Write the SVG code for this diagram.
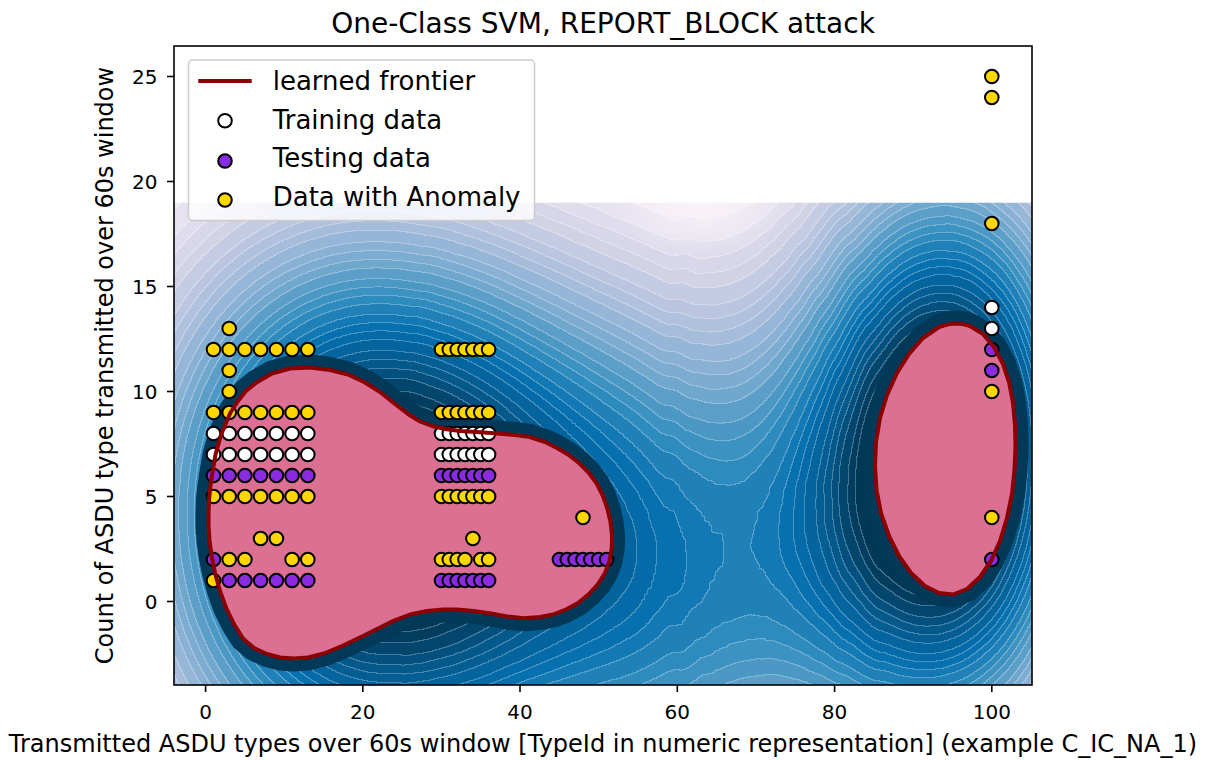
<svg xmlns="http://www.w3.org/2000/svg" width="1223" height="760" viewBox="0 0 1223 760">
<style>
text{font-family:"DejaVu Sans","Liberation Sans",sans-serif;fill:#000}
.tk{font-size:20px}
.lab{font-size:24px}
.leg{font-size:26px}
.ttl{font-size:28px}
.w{fill:#ffffff;stroke:#000;stroke-width:2}
.p{fill:#8a2be2;stroke:#000;stroke-width:2}
.a{fill:#ffd700;stroke:#000;stroke-width:2}
.tick{stroke:#000;stroke-width:1.6}
.front{fill:none;stroke:#8b0000;stroke-width:4;stroke-linejoin:round}
.halo{fill:none;stroke:#023858;stroke-width:26;stroke-linejoin:round}
.pink{fill:#db7093}
</style>
<defs>
<path id="lb" d="M208.5,515 L209,500 L210.3,487 L212,475.5 L215.5,454.5 L221.5,433.5 L230.5,412.5 L238,401 L246,391 L256.5,382.5 L272,373.5 L290,368.5 L310,367.5 L330,370 L348,374.5 L365,382.5 L380,392 L395,404 L408,414 L420,421.5 L432,426 L445,429 L460,431 L480,432.3 L497,433.5 L515,435 L530,437 L545,442 L557,448 L568,454.5 L579,463 L589,473 L597,484 L603,496 L607.5,509 L610.5,522 L612,535 L611.8,548 L609.5,561 L605,573 L598,584 L589,594 L578,603 L566,609.5 L553,614.5 L540,617 L524,618.3 L507,616.5 L491,613.5 L474,611 L457,609.5 L443,609.5 L427,611 L410,614.5 L394,620.5 L378,628.5 L361,637 L342,646 L324,653.5 L308,657.5 L294,658.5 L280,657.5 L267,654 L254,648 L243,638.5 L234,624 L226,607.5 L220,591 L215,573 L211.5,555 L209.5,540 L208.6,527 Z"/>
<path id="rb" d="M957,323.5 L964,324.3 L970,326 L983,334 L994,347 L1003,364 L1009,382 L1013,403 L1015,425 L1015.5,447 L1014.5,470 L1012,494 L1007,518 L1000,541 L991,561 L980,577 L967,589 L953,594.5 L939,593 L925,586 L911,573 L899,556 L889,536 L881,513 L876.5,490 L875,466 L876,442 L880,418 L887,395 L897,373 L909,354 L923,338 L939,327 L948,324.3 Z"/>
<linearGradient id="lgr" gradientUnits="userSpaceOnUse" x1="208" y1="0" x2="612" y2="0">
<stop offset="0" stop-color="#cc0000"/><stop offset="1" stop-color="#ff0000"/>
</linearGradient>
<radialGradient id="spot" gradientUnits="userSpaceOnUse" cx="700" cy="200" r="80" gradientTransform="translate(700 200) scale(1.15 0.7) translate(-700 -200)">
<stop offset="0" stop-color="#fff7fb" stop-opacity="0.75"/><stop offset="0.5" stop-color="#fff7fb" stop-opacity="0.4"/><stop offset="1" stop-color="#fff7fb" stop-opacity="0"/>
</radialGradient>
<clipPath id="fc"><rect x="174" y="202.7" width="858" height="482.3"/></clipPath>
<filter id="fld" filterUnits="userSpaceOnUse" x="-700" y="-700" width="2600" height="2200" color-interpolation-filters="sRGB">
<feGaussianBlur in="SourceGraphic" stdDeviation="130 190" result="b1"/>
<feGaussianBlur in="SourceGraphic" stdDeviation="95 190" result="b2"/>
<feColorMatrix in="b1" type="matrix" values="1.8 0 0 0 0 1.8 0 0 0 0 1.8 0 0 0 0 0 0 0 0 1" result="m1"/>
<feColorMatrix in="b2" type="matrix" values="0 2.65 0.75 0 0 0 2.65 0.75 0 0 0 2.65 0.75 0 0 0 0 0 0 1" result="m2"/>
<feComposite in="m1" in2="m2" operator="arithmetic" k1="0" k2="1" k3="1" k4="-0.03" result="g0"/>
<feGaussianBlur in="g0" stdDeviation="6" result="g"/>
<feComponentTransfer in="g" result="q">
<feFuncR type="discrete" tableValues="0.0083 0.025 0.0417 0.0583 0.075 0.0917 0.1083 0.125 0.1417 0.1583 0.175 0.1917 0.2083 0.225 0.2417 0.2583 0.275 0.2917 0.3083 0.325 0.3417 0.3583 0.375 0.3917 0.4083 0.425 0.4417 0.4583 0.475 0.4917 0.75 0.75 0.75 0.75 0.75 0.75 0.75 0.75 0.75 0.75 0.75 0.75 0.75 0.75 0.75 0.75 0.75 0.75 0.75 0.75 0.75 0.75 0.75 0.75 0.75 0.75 0.75 0.75 0.75 0.75"/>
<feFuncG type="discrete" tableValues="0.0083 0.025 0.0417 0.0583 0.075 0.0917 0.1083 0.125 0.1417 0.1583 0.175 0.1917 0.2083 0.225 0.2417 0.2583 0.275 0.2917 0.3083 0.325 0.3417 0.3583 0.375 0.3917 0.4083 0.425 0.4417 0.4583 0.475 0.4917 0.75 0.75 0.75 0.75 0.75 0.75 0.75 0.75 0.75 0.75 0.75 0.75 0.75 0.75 0.75 0.75 0.75 0.75 0.75 0.75 0.75 0.75 0.75 0.75 0.75 0.75 0.75 0.75 0.75 0.75"/>
<feFuncB type="discrete" tableValues="0.0083 0.025 0.0417 0.0583 0.075 0.0917 0.1083 0.125 0.1417 0.1583 0.175 0.1917 0.2083 0.225 0.2417 0.2583 0.275 0.2917 0.3083 0.325 0.3417 0.3583 0.375 0.3917 0.4083 0.425 0.4417 0.4583 0.475 0.4917 0.75 0.75 0.75 0.75 0.75 0.75 0.75 0.75 0.75 0.75 0.75 0.75 0.75 0.75 0.75 0.75 0.75 0.75 0.75 0.75 0.75 0.75 0.75 0.75 0.75 0.75 0.75 0.75 0.75 0.75"/>
</feComponentTransfer>
<feComponentTransfer in="q" result="col">
<feFuncR type="table" tableValues="1 0.925 0.816 0.651 0.455 0.212 0.02 0.016 0.008 0.008 0.008 0.008 0.008 0.008 0.008 0.008 0.008"/>
<feFuncG type="table" tableValues="0.969 0.906 0.82 0.741 0.663 0.565 0.439 0.353 0.22 0.22 0.22 0.22 0.22 0.22 0.22 0.22 0.22"/>
<feFuncB type="table" tableValues="0.984 0.949 0.902 0.859 0.812 0.753 0.69 0.553 0.345 0.345 0.345 0.345 0.345 0.345 0.345 0.345 0.345"/>
</feComponentTransfer>
<feColorMatrix in="q" type="matrix" values="0 0 0 0 0 0 0 0 0 0 0 0 0 0 0 1 0 0 0 0" result="qa"/>
<feMorphology in="qa" operator="dilate" radius="1" result="qd"/>
<feComposite in="qd" in2="qa" operator="arithmetic" k1="0" k2="1" k3="-1" k4="0" result="ed"/>
<feColorMatrix in="ed" type="matrix" values="0 0 0 0 1 0 0 0 0 1 0 0 0 0 1 0 0 0 80 0" result="e1"/>
<feColorMatrix in="e1" type="matrix" values="1 0 0 0 0 0 1 0 0 0 0 0 1 0 0 0 0 0 0.25 0" result="ln"/>
<feComposite in="ln" in2="col" operator="over"/>
</filter>
</defs>
<rect width="1223" height="760" fill="#ffffff"/>
<g id="decision-field" clip-path="url(#fc)">
<g filter="url(#fld)">
<rect x="-700" y="-700" width="2600" height="2200" fill="#000"/>
<rect x="612" y="470" width="208" height="220" fill="#0000ff"/>
<use href="#lb" fill="url(#lgr)"/>
<use href="#rb" fill="#00ff00"/>
</g>
<rect x="560" y="200" width="280" height="80" fill="url(#spot)"/>
<use href="#lb" class="halo"/>
<use href="#rb" class="halo"/>
</g>
<g id="frontier-region">
<use href="#lb" class="pink"/>
<use href="#rb" class="pink"/>
</g>
<g id="training">
<circle class="w" cx="213.5" cy="433.5" r="6.8"/><circle class="w" cx="229.2" cy="433.5" r="6.8"/><circle class="w" cx="244.9" cy="433.5" r="6.8"/><circle class="w" cx="260.6" cy="433.5" r="6.8"/><circle class="w" cx="276.4" cy="433.5" r="6.8"/><circle class="w" cx="292.1" cy="433.5" r="6.8"/><circle class="w" cx="307.8" cy="433.5" r="6.8"/>
<circle class="w" cx="441.5" cy="433.5" r="6.8"/><circle class="w" cx="449.3" cy="433.5" r="6.8"/><circle class="w" cx="457.2" cy="433.5" r="6.8"/><circle class="w" cx="465" cy="433.5" r="6.8"/><circle class="w" cx="472.9" cy="433.5" r="6.8"/><circle class="w" cx="480.8" cy="433.5" r="6.8"/><circle class="w" cx="488.6" cy="433.5" r="6.8"/>
<circle class="w" cx="213.5" cy="454.5" r="6.8"/><circle class="w" cx="229.2" cy="454.5" r="6.8"/><circle class="w" cx="244.9" cy="454.5" r="6.8"/><circle class="w" cx="260.6" cy="454.5" r="6.8"/><circle class="w" cx="276.4" cy="454.5" r="6.8"/><circle class="w" cx="292.1" cy="454.5" r="6.8"/><circle class="w" cx="307.8" cy="454.5" r="6.8"/>
<circle class="w" cx="441.5" cy="454.5" r="6.8"/><circle class="w" cx="449.3" cy="454.5" r="6.8"/><circle class="w" cx="457.2" cy="454.5" r="6.8"/><circle class="w" cx="465" cy="454.5" r="6.8"/><circle class="w" cx="472.9" cy="454.5" r="6.8"/><circle class="w" cx="480.8" cy="454.5" r="6.8"/><circle class="w" cx="488.6" cy="454.5" r="6.8"/>
<circle class="w" cx="991.8" cy="307.5" r="6.8"/><circle class="w" cx="991.8" cy="328.5" r="6.8"/>
</g>
<g id="testing">
<circle class="p" cx="213.5" cy="475.5" r="6.8"/><circle class="p" cx="229.2" cy="475.5" r="6.8"/><circle class="p" cx="244.9" cy="475.5" r="6.8"/><circle class="p" cx="260.6" cy="475.5" r="6.8"/><circle class="p" cx="276.4" cy="475.5" r="6.8"/><circle class="p" cx="292.1" cy="475.5" r="6.8"/><circle class="p" cx="307.8" cy="475.5" r="6.8"/>
<circle class="p" cx="441.5" cy="475.5" r="6.8"/><circle class="p" cx="449.3" cy="475.5" r="6.8"/><circle class="p" cx="457.2" cy="475.5" r="6.8"/><circle class="p" cx="465" cy="475.5" r="6.8"/><circle class="p" cx="472.9" cy="475.5" r="6.8"/><circle class="p" cx="480.8" cy="475.5" r="6.8"/><circle class="p" cx="488.6" cy="475.5" r="6.8"/>
<circle class="p" cx="213.5" cy="559.5" r="6.8"/>
<circle class="p" cx="559.4" cy="559.5" r="6.8"/><circle class="p" cx="567.3" cy="559.5" r="6.8"/><circle class="p" cx="575.1" cy="559.5" r="6.8"/><circle class="p" cx="583" cy="559.5" r="6.8"/><circle class="p" cx="590.8" cy="559.5" r="6.8"/><circle class="p" cx="598.7" cy="559.5" r="6.8"/><circle class="p" cx="606.6" cy="559.5" r="6.8"/>
<circle class="p" cx="229.2" cy="580.5" r="6.8"/><circle class="p" cx="244.9" cy="580.5" r="6.8"/><circle class="p" cx="260.6" cy="580.5" r="6.8"/><circle class="p" cx="276.4" cy="580.5" r="6.8"/><circle class="p" cx="292.1" cy="580.5" r="6.8"/><circle class="p" cx="307.8" cy="580.5" r="6.8"/>
<circle class="p" cx="441.5" cy="580.5" r="6.8"/><circle class="p" cx="449.3" cy="580.5" r="6.8"/><circle class="p" cx="457.2" cy="580.5" r="6.8"/><circle class="p" cx="465" cy="580.5" r="6.8"/><circle class="p" cx="472.9" cy="580.5" r="6.8"/><circle class="p" cx="480.8" cy="580.5" r="6.8"/><circle class="p" cx="488.6" cy="580.5" r="6.8"/>
<circle class="p" cx="991.8" cy="349.5" r="6.8"/><circle class="p" cx="991.8" cy="370.5" r="6.8"/><circle class="p" cx="991.8" cy="559.5" r="6.8"/>
</g>
<g id="anomaly">
<circle class="a" cx="229.2" cy="328.5" r="6.8"/>
<circle class="a" cx="213.5" cy="349.5" r="6.8"/><circle class="a" cx="229.2" cy="349.5" r="6.8"/><circle class="a" cx="244.9" cy="349.5" r="6.8"/><circle class="a" cx="260.6" cy="349.5" r="6.8"/><circle class="a" cx="276.4" cy="349.5" r="6.8"/><circle class="a" cx="292.1" cy="349.5" r="6.8"/><circle class="a" cx="307.8" cy="349.5" r="6.8"/>
<circle class="a" cx="441.5" cy="349.5" r="6.8"/><circle class="a" cx="449.3" cy="349.5" r="6.8"/><circle class="a" cx="457.2" cy="349.5" r="6.8"/><circle class="a" cx="465" cy="349.5" r="6.8"/><circle class="a" cx="472.9" cy="349.5" r="6.8"/><circle class="a" cx="480.8" cy="349.5" r="6.8"/><circle class="a" cx="488.6" cy="349.5" r="6.8"/>
<circle class="a" cx="229.2" cy="370.5" r="6.8"/><circle class="a" cx="229.2" cy="391.5" r="6.8"/>
<circle class="a" cx="213.5" cy="412.5" r="6.8"/><circle class="a" cx="229.2" cy="412.5" r="6.8"/><circle class="a" cx="244.9" cy="412.5" r="6.8"/><circle class="a" cx="260.6" cy="412.5" r="6.8"/><circle class="a" cx="276.4" cy="412.5" r="6.8"/><circle class="a" cx="292.1" cy="412.5" r="6.8"/><circle class="a" cx="307.8" cy="412.5" r="6.8"/>
<circle class="a" cx="441.5" cy="412.5" r="6.8"/><circle class="a" cx="449.3" cy="412.5" r="6.8"/><circle class="a" cx="457.2" cy="412.5" r="6.8"/><circle class="a" cx="465" cy="412.5" r="6.8"/><circle class="a" cx="472.9" cy="412.5" r="6.8"/><circle class="a" cx="480.8" cy="412.5" r="6.8"/><circle class="a" cx="488.6" cy="412.5" r="6.8"/>
<circle class="a" cx="213.5" cy="496.5" r="6.8"/><circle class="a" cx="229.2" cy="496.5" r="6.8"/><circle class="a" cx="244.9" cy="496.5" r="6.8"/><circle class="a" cx="260.6" cy="496.5" r="6.8"/><circle class="a" cx="276.4" cy="496.5" r="6.8"/><circle class="a" cx="292.1" cy="496.5" r="6.8"/><circle class="a" cx="307.8" cy="496.5" r="6.8"/>
<circle class="a" cx="441.5" cy="496.5" r="6.8"/><circle class="a" cx="449.3" cy="496.5" r="6.8"/><circle class="a" cx="457.2" cy="496.5" r="6.8"/><circle class="a" cx="465" cy="496.5" r="6.8"/><circle class="a" cx="472.9" cy="496.5" r="6.8"/><circle class="a" cx="480.8" cy="496.5" r="6.8"/><circle class="a" cx="488.6" cy="496.5" r="6.8"/>
<circle class="a" cx="260.6" cy="538.5" r="6.8"/><circle class="a" cx="276.4" cy="538.5" r="6.8"/><circle class="a" cx="472.9" cy="538.5" r="6.8"/>
<circle class="a" cx="229.2" cy="559.5" r="6.8"/><circle class="a" cx="244.9" cy="559.5" r="6.8"/><circle class="a" cx="292.1" cy="559.5" r="6.8"/><circle class="a" cx="307.8" cy="559.5" r="6.8"/>
<circle class="a" cx="441.5" cy="559.5" r="6.8"/><circle class="a" cx="449.3" cy="559.5" r="6.8"/><circle class="a" cx="457.2" cy="559.5" r="6.8"/><circle class="a" cx="465" cy="559.5" r="6.8"/><circle class="a" cx="480.8" cy="559.5" r="6.8"/><circle class="a" cx="488.6" cy="559.5" r="6.8"/>
<circle class="a" cx="213.5" cy="580.5" r="6.8"/>
<circle class="a" cx="583" cy="517.5" r="6.8"/>
<circle class="a" cx="991.8" cy="76.5" r="6.8"/><circle class="a" cx="991.8" cy="97.5" r="6.8"/><circle class="a" cx="991.8" cy="223.5" r="6.8"/><circle class="a" cx="991.8" cy="391.5" r="6.8"/><circle class="a" cx="991.8" cy="517.5" r="6.8"/>
</g>
<g id="frontier">
<use href="#lb" class="front"/>
<use href="#rb" class="front"/>
</g>
<g id="axes">
<rect x="174" y="46" width="858" height="639" fill="none" stroke="#000" stroke-width="1.6"/>
<g class="tick">
<line x1="205.6" y1="685" x2="205.6" y2="692"/><line x1="362.8" y1="685" x2="362.8" y2="692"/><line x1="520" y1="685" x2="520" y2="692"/><line x1="677.3" y1="685" x2="677.3" y2="692"/><line x1="834.6" y1="685" x2="834.6" y2="692"/><line x1="991.8" y1="685" x2="991.8" y2="692"/>
<line x1="167" y1="601.5" x2="174" y2="601.5"/><line x1="167" y1="496.5" x2="174" y2="496.5"/><line x1="167" y1="391.5" x2="174" y2="391.5"/><line x1="167" y1="286.5" x2="174" y2="286.5"/><line x1="167" y1="181.5" x2="174" y2="181.5"/><line x1="167" y1="76.5" x2="174" y2="76.5"/>
</g>
<g class="tk" text-anchor="middle">
<text x="205.6" y="719">0</text><text x="362.8" y="719">20</text><text x="520" y="719">40</text><text x="677.3" y="719">60</text><text x="834.6" y="719">80</text><text x="991.8" y="719">100</text>
</g>
<g class="tk" text-anchor="end">
<text x="157.5" y="609">0</text><text x="157.5" y="504">5</text><text x="157.5" y="399">10</text><text x="157.5" y="294">15</text><text x="157.5" y="189">20</text><text x="157.5" y="84">25</text>
</g>
<text class="lab" x="603" y="752" text-anchor="middle">Transmitted ASDU types over 60s window [TypeId in numeric representation] (example C_IC_NA_1)</text>
<text class="lab" transform="translate(113,365.5) rotate(-90)" text-anchor="middle">Count of ASDU type transmitted over 60s window</text>
<text class="ttl" x="603" y="33" text-anchor="middle">One-Class SVM, REPORT_BLOCK attack</text>
</g>
<g id="legend">
<rect x="188.5" y="60" width="346" height="160.5" rx="4" fill="#ffffff" fill-opacity="0.8" stroke="#cccccc" stroke-width="1.5"/>
<line x1="198.3" y1="81" x2="251.7" y2="81" stroke="#8b0000" stroke-width="4"/>
<circle class="w" cx="225" cy="120.7" r="6.8"/>
<circle class="p" cx="225" cy="161" r="6.8"/>
<circle class="a" cx="225" cy="200" r="6.8"/>
<text class="leg" x="272.7" y="89.8">learned frontier</text>
<text class="leg" x="272.7" y="128.5">Training data</text>
<text class="leg" x="272.7" y="167.2">Testing data</text>
<text class="leg" x="272.7" y="206">Data with Anomaly</text>
</g>
</svg>
